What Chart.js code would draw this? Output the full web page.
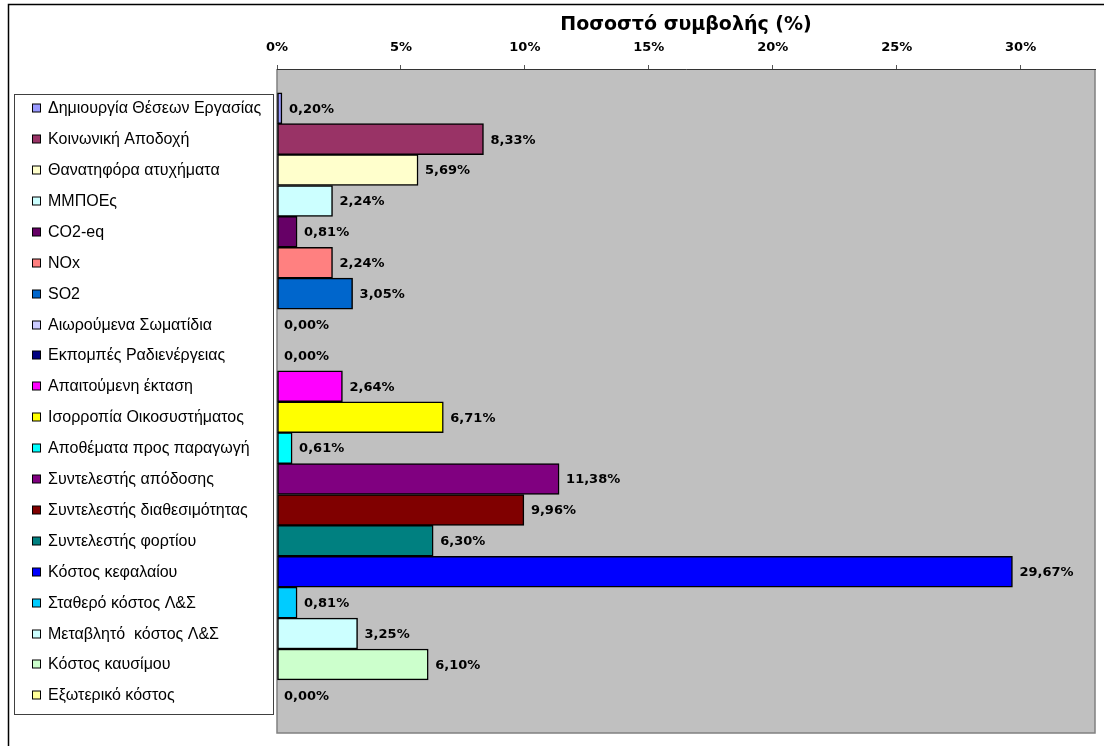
<!DOCTYPE html>
<html>
<head>
<meta charset="utf-8">
<script src="https://cdn.jsdelivr.net/npm/chart.js@4/dist/chart.umd.min.js"></script>
<style>
  html, body { margin: 0; padding: 0; background: #fff; }
  #wrap { width: 1104px; height: 746px; position: relative; }
</style>
</head>
<body>
<div id="wrap"><canvas id="myChart"></canvas></div>
<script>
const categories = [
  'Δημιουργία Θέσεων Εργασίας',
  'Κοινωνική Αποδοχή',
  'Θανατηφόρα ατυχήματα',
  'ΜΜΠΟΕς',
  'CO2-eq',
  'NOx',
  'SO2',
  'Αιωρούμενα Σωματίδια',
  'Εκπομπές Ραδιενέργειας',
  'Απαιτούμενη έκταση',
  'Ισορροπία Οικοσυστήματος',
  'Αποθέματα προς παραγωγή',
  'Συντελεστής απόδοσης',
  'Συντελεστής διαθεσιμότητας',
  'Συντελεστής φορτίου',
  'Κόστος κεφαλαίου',
  'Σταθερό κόστος Λ&Σ',
  'Μεταβλητό  κόστος Λ&Σ',
  'Κόστος καυσίμου',
  'Εξωτερικό κόστος'
];

const shares = [0.20, 8.33, 5.69, 2.24, 0.81, 2.24, 3.05, 0.00, 0.00, 2.64,
                6.71, 0.61, 11.38, 9.96, 6.30, 29.67, 0.81, 3.25, 6.10, 0.00];

const barColors = [
  '#9999FF', '#993366', '#FFFFCC', '#CCFFFF', '#660066',
  '#FF8080', '#0066CC', '#CCCCFF', '#000080', '#FF00FF',
  '#FFFF00', '#00FFFF', '#800080', '#800000', '#008080',
  '#0000FF', '#00CCFF', '#CCFFFF', '#CCFFCC', '#FFFF99'
];

const xTicks = [0, 5, 10, 15, 20, 25, 30];

// index range of the category axis (a little room above the first and below the last bar)
const yMin = -1.27;
const yMax = 20.22;

const fmt = v => v.toFixed(2).replace('.', ',') + '%';

// grey plot area, frame lines and the left-hand key box
const framePlugin = {
  id: 'frame',
  beforeDraw(chart) {
    const { ctx, chartArea: a } = chart;
    ctx.save();
    ctx.fillStyle = '#C0C0C0';
    ctx.fillRect(a.left, a.top, a.right - a.left, a.bottom - a.top);

    ctx.strokeStyle = '#808080';
    ctx.lineWidth = 1.5;
    ctx.beginPath();
    ctx.moveTo(a.left, a.top);
    ctx.lineTo(a.left, a.bottom);
    ctx.lineTo(a.right, a.bottom);
    ctx.lineTo(a.right, a.top);
    ctx.stroke();

    // outer chart frame
    ctx.strokeStyle = '#000';
    ctx.lineWidth = 1.5;
    ctx.beginPath();
    ctx.moveTo(1104, 4.5);
    ctx.lineTo(8.5, 4.5);
    ctx.lineTo(8.5, 746);
    ctx.stroke();
    ctx.restore();
  },
  afterDraw(chart) {
    const { ctx } = chart;
    const y = chart.scales.y;
    ctx.save();
    ctx.fillStyle = '#fff';
    ctx.fillRect(14, 94, 259, 620);
    ctx.strokeStyle = '#404040';
    ctx.lineWidth = 1;
    ctx.strokeRect(14.5, 94.5, 259, 620);

    ctx.font = '16px "Liberation Sans", Arial, sans-serif';
    ctx.textBaseline = 'middle';
    ctx.textAlign = 'left';
    categories.forEach((name, i) => {
      const py = Math.round(y.getPixelForValue(i));
      ctx.fillStyle = barColors[i];
      ctx.fillRect(32.5, py - 4, 8, 8);
      ctx.strokeStyle = '#000';
      ctx.strokeRect(32.5, py - 4, 8, 8);
      ctx.fillStyle = '#000';
      ctx.fillText(name, 48, py + 1);
    });
    ctx.restore();
  }
};

// value labels to the right of each bar
const valueLabels = {
  id: 'valueLabels',
  afterDatasetsDraw(chart) {
    const { ctx } = chart;
    const meta = chart.getDatasetMeta(0);
    ctx.save();
    ctx.font = 'bold 13px "DejaVu Sans", Verdana, sans-serif';
    ctx.fillStyle = '#000';
    ctx.textBaseline = 'middle';
    ctx.textAlign = 'left';
    meta.data.forEach((bar, i) => {
      ctx.fillText(fmt(shares[i]), bar.x + 7, bar.y + 1);
    });
    ctx.restore();
  }
};

const ctx = document.getElementById('myChart').getContext('2d');

new Chart(ctx, {
  type: 'bar',
  data: {
    datasets: [{
      data: shares.map((v, i) => ({ x: v, y: i })),
      backgroundColor: barColors,
      borderColor: '#000',
      borderWidth: 1.5,
      borderSkipped: false,
      barPercentage: 1,
      categoryPercentage: 1
    }]
  },
  options: {
    indexAxis: 'y',
    responsive: true,
    maintainAspectRatio: false,
    animation: false,
    devicePixelRatio: 1,
    layout: { padding: { left: 277, top: 0, right: 9, bottom: 13 } },
    plugins: {
      legend: { display: false },
      tooltip: { enabled: false }
    },
    scales: {
      x: {
        type: 'linear',
        position: 'top',
        min: 0,
        max: 33,
        afterFit: s => { s.height = 69; },
        afterBuildTicks: s => { s.ticks = xTicks.map(v => ({ value: v })); },
        grid: { drawOnChartArea: false, drawTicks: true, tickLength: 4, tickColor: '#555' },
        border: { display: true, color: '#333', width: 1 },
        ticks: {
          padding: 10,
          color: '#000',
          font: { family: '"DejaVu Sans", Verdana, sans-serif', size: 13, weight: 'bold' },
          callback: v => v + '%'
        },
        title: {
          display: true,
          text: 'Ποσοστό συμβολής (%)',
          color: '#000',
          padding: { top: 14, bottom: 0 },
          font: { family: '"DejaVu Sans", Verdana, sans-serif', size: 19, weight: 'bold' }
        }
      },
      y: {
        type: 'linear',
        display: false,
        reverse: true,
        offset: false,
        bounds: 'data',
        min: yMin,
        max: yMax,
        afterBuildTicks: s => { s.min = yMin; s.max = yMax; }
      }
    }
  },
  plugins: [framePlugin, valueLabels]
});
</script>
</body>
</html>
